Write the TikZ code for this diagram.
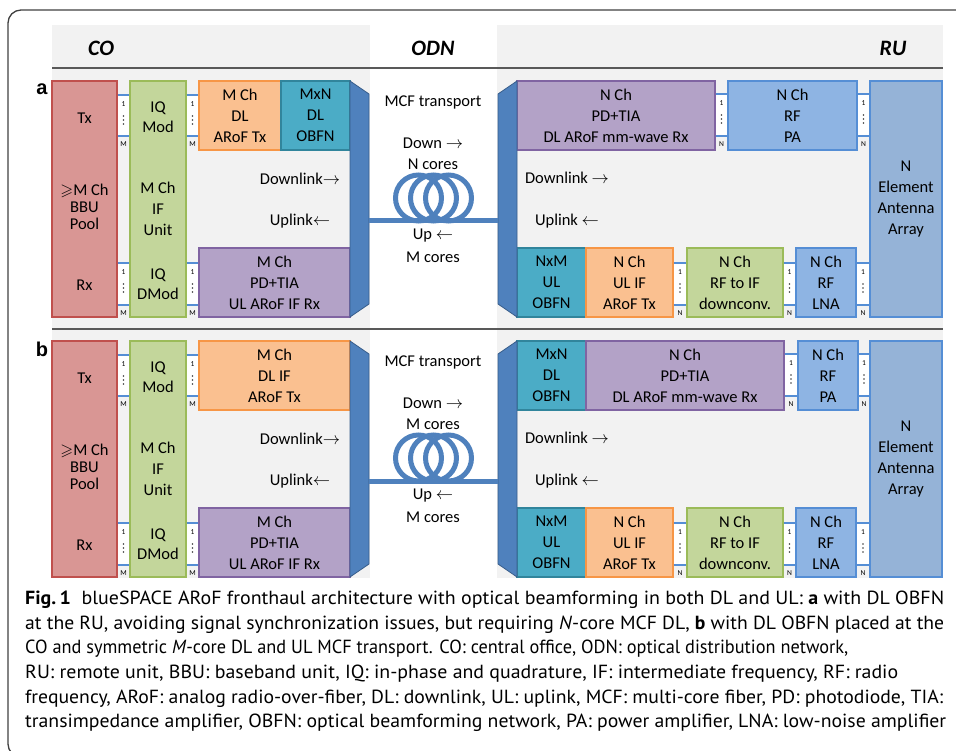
\documentclass[tikz,border=0pt]{standalone}
\usepackage{fontspec}
\usepackage{amssymb}
\usepackage{graphicx}
\setmainfont{Carlito}
\newfontfamily\capfont{PT Sans}
\newfontfamily\lblfont{Liberation Sans}
\usetikzlibrary{calc}
\definecolor{bgG}{HTML}{F2F2F2}
\definecolor{sepC}{HTML}{595959}
\definecolor{frameC}{HTML}{404040}
\definecolor{redF}{HTML}{D99694}
\definecolor{redD}{HTML}{C0504D}
\definecolor{grnF}{HTML}{C3D69B}
\definecolor{grnD}{HTML}{9BBB59}
\definecolor{orgF}{HTML}{FAC090}
\definecolor{orgD}{HTML}{F79646}
\definecolor{tealF}{HTML}{4BACC6}
\definecolor{tealD}{HTML}{31859C}
\definecolor{purF}{HTML}{B3A2C7}
\definecolor{purD}{HTML}{8064A2}
\definecolor{rfF}{HTML}{8EB4E3}
\definecolor{rfD}{HTML}{558ED5}
\definecolor{antF}{HTML}{95B3D7}
\definecolor{antD}{HTML}{558ED5}
\definecolor{muxF}{HTML}{4F81BD}
\definecolor{muxD}{HTML}{385D8A}
\definecolor{chC}{HTML}{558ED5}
\definecolor{dotC}{HTML}{404040}
\newcommand\boxfont{\fontsize{16.5}{21}\selectfont}
\tikzset{
  blk/.style={draw, line width=1.3pt, inner sep=0pt, align=center, font=\boxfont},
  redbox/.style={blk, fill=redF, draw=redD},
  grnbox/.style={blk, fill=grnF, draw=grnD},
  orgbox/.style={blk, fill=orgF, draw=orgD},
  tealbox/.style={blk, fill=tealF, draw=tealD},
  purbox/.style={blk, fill=purF, draw=purD},
  rfbox/.style={blk, fill=rfF, draw=rfD},
  antbox/.style={blk, fill=antF, draw=antD},
  txt/.style={inner sep=0pt, align=center, font=\boxfont},
  tighttxt/.style={inner sep=0pt, align=center, font=\fontsize{16.5}{17}\selectfont},
  hdr/.style={inner sep=0pt, font=\fontsize{22}{26}\selectfont\bfseries\itshape},
  plab/.style={inner sep=0pt, font=\lblfont\fontsize{20}{24}\selectfont\bfseries},
  chline/.style={draw=chC, line width=1.2pt},
  chlab/.style={inner sep=0pt, font=\fontsize{7.5}{8}\selectfont},
  chdot/.style={fill=dotC},
  mux/.style={fill=muxF, draw=muxD, line width=0.8pt},
  fiber/.style={draw=muxF, line width=5pt},
  sepline/.style={draw=sepC, line width=1.4pt},
  capline/.style={anchor=base west, inner sep=0pt, font=\capfont\fontsize{19}{24}\selectfont},
}
\newcommand\blockat[7]{\node[#2, minimum width={#5-#3}, minimum height={#6-#4}] (#1) at ({(#3+#5)/2},{(#4+#6)/2}) {#7};}
\newcommand\chan[5]{%
  \coordinate (cT) at (0,#3); \coordinate (cB) at (0,#4);
  \coordinate (c1) at (0,{#3+9}); \coordinate (cL) at (0,{#4+8});
  \coordinate (d1) at (0,{#3+21}); \coordinate (d2) at (0,{#3+25}); \coordinate (d3) at (0,{#3+29});
  \fill[white] (#1.east |- cT) rectangle (#2.west |- cB);
  \draw[chline] (#1.east |- cT) -- (#2.west |- cT);
  \draw[chline] (#1.east |- cB) -- (#2.west |- cB);
  \coordinate (cM) at ($(#1.east)!0.5!(#2.west)$);
  \node[chlab] at (cM |- c1) {1};
  \fill[chdot] (cM |- d1) circle[radius=0.85];
  \fill[chdot] (cM |- d2) circle[radius=0.85];
  \fill[chdot] (cM |- d3) circle[radius=0.85];
  \node[chlab] at (cM |- cL) {#5};
}
\newcommand\muxpair[1]{%
  \filldraw[mux] (350,{81+#1}) -- (369,{94+#1}) -- (369,{304+#1}) -- (350,{317+#1}) -- cycle;
  \filldraw[mux] (517,{81+#1}) -- (498,{94+#1}) -- (498,{304+#1}) -- (517,{317+#1}) -- cycle;
}
\begin{document}
\begin{tikzpicture}[x=1pt,y=-1pt]
\useasboundingbox (0,0) rectangle (956,751);
\clip (0,0) rectangle (956,751);
% backgrounds
\fill[bgG] (52,25) rectangle (370,578);
\fill[bgG] (497,25) rectangle (943,578);
\draw[sepline] (52,68) -- (943,68);
\draw[sepline] (52,329) -- (943,329);
% frame
\draw[draw=frameC, line width=1.3pt, rounded corners=13pt] (975,10) -- (8,10) -- (8,757) -- (975,757);
% headers
\node[hdr] (hCO) at (101,48) {CO};
\node[hdr] (hODN) at (433,48) {ODN};
\node[hdr] (hRU) at (893,48) {RU};
\node[plab] (la) at (42,89) {a};
\node[plab] (lb) at (42,349) {b};

% ===== panel a =====
\blockat{bbuA}{redbox}{52}{81}{117}{317}{}
\blockat{ifA}{grnbox}{130}{81}{186}{317}{}
\node[txt] (bbuAtx) at (84.5,118) {Tx};
\node[tighttxt] (bbuAmid) at (84.5,207) {$\geqslant$M Ch\\BBU\\Pool};
\node[txt] (bbuArx) at (84.5,285) {Rx};
\node[tighttxt, font=\fontsize{16.5}{20}\selectfont] (ifAmod) at (158,117) {IQ\\Mod};
\node[txt] (ifAmid) at (158,209) {M Ch\\IF\\Unit};
\node[tighttxt, font=\fontsize{16.5}{20}\selectfont] (ifAdmod) at (158,284) {IQ\\DMod};
\blockat{dltxA}{orgbox}{199}{81}{281}{150}{M Ch\\DL\\ARoF Tx}
\blockat{obfnA}{tealbox}{281}{81}{350}{150}{MxN\\DL\\OBFN}
\blockat{ulrxA}{purbox}{199}{248}{350}{317}{M Ch\\PD+TIA\\UL ARoF IF Rx}
\blockat{rurxA}{purbox}{517}{81}{715}{150}{N Ch\\PD+TIA\\DL ARoF mm-wave Rx}
\blockat{paA}{rfbox}{728}{81}{857}{150}{N Ch\\RF\\PA}
\blockat{antA}{antbox}{870}{81}{942}{317}{N\\Element\\Antenna\\Array}
\blockat{ulobfnA}{tealbox}{517}{248}{586}{317}{NxM\\UL\\OBFN}
\blockat{ultxA}{orgbox}{586}{248}{673}{317}{N Ch\\UL IF\\ARoF Tx}
\blockat{dcA}{grnbox}{687}{248}{783}{317}{N Ch\\RF to IF\\downconv.}
\blockat{lnaA}{rfbox}{796}{248}{856}{317}{N Ch\\RF\\LNA}
\chan{bbuA}{ifA}{95}{136}{M}
\chan{bbuA}{ifA}{263}{305}{M}
\chan{ifA}{dltxA}{95}{136}{M}
\chan{ifA}{ulrxA}{263}{305}{M}
\chan{rurxA}{paA}{94}{136}{N}
\chan{paA}{antA}{94}{136}{N}
\chan{ultxA}{dcA}{263}{305}{N}
\chan{dcA}{lnaA}{263}{305}{N}
\chan{lnaA}{antA}{263}{305}{N}
\node[txt] (dlCOa) at (300,179) {Downlink$\rightarrow$};
\node[txt] (ulCOa) at (300,221) {Uplink$\leftarrow$};
\node[txt] (dlRUa) at (567,178) {Downlink $\rightarrow$};
\node[txt] (ulRUa) at (567,221) {Uplink $\leftarrow$};
\muxpair{0}
\coordinate (fLa) at (369,221);
\coordinate (fRa) at (498,221);
\draw[fiber] (418.5,198) circle[radius=23];
\draw[fiber] (433.5,198) circle[radius=23];
\draw[fiber] (448.5,198) circle[radius=23];
\draw[fiber] (fLa) -- (fRa);
\node[txt] (mcfa) at (433,102) {MCF transport};
\node[txt] (downa) at (433,143) {Down $\rightarrow$};
\node[txt] (ncorea) at (433,164) {N cores};
\node[txt] (upa) at (433,236) {Up $\leftarrow$};
\node[txt] (mcorea) at (433,257) {M cores};

% ===== panel b =====
\blockat{bbuB}{redbox}{52}{341}{117}{577}{}
\blockat{ifB}{grnbox}{130}{341}{186}{577}{}
\node[txt] (bbuBtx) at (84.5,378) {Tx};
\node[tighttxt] (bbuBmid) at (84.5,467) {$\geqslant$M Ch\\BBU\\Pool};
\node[txt] (bbuBrx) at (84.5,545) {Rx};
\node[tighttxt, font=\fontsize{16.5}{20}\selectfont] (ifBmod) at (158,377) {IQ\\Mod};
\node[txt] (ifBmid) at (158,469) {M Ch\\IF\\Unit};
\node[tighttxt, font=\fontsize{16.5}{20}\selectfont] (ifBdmod) at (158,544) {IQ\\DMod};
\blockat{dltxB}{orgbox}{199}{341}{350}{410}{M Ch\\DL IF\\ARoF Tx}
\blockat{ulrxB}{purbox}{199}{508}{350}{577}{M Ch\\PD+TIA\\UL ARoF IF Rx}
\blockat{obfnB}{tealbox}{517}{341}{586}{410}{MxN\\DL\\OBFN}
\blockat{rurxB}{purbox}{586}{341}{784}{410}{N Ch\\PD+TIA\\DL ARoF mm-wave Rx}
\blockat{paB}{rfbox}{798}{341}{858}{410}{N Ch\\RF\\PA}
\blockat{antB}{antbox}{870}{341}{942}{577}{N\\Element\\Antenna\\Array}
\blockat{ulobfnB}{tealbox}{517}{508}{586}{577}{NxM\\UL\\OBFN}
\blockat{ultxB}{orgbox}{586}{508}{673}{577}{N Ch\\UL IF\\ARoF Tx}
\blockat{dcB}{grnbox}{687}{508}{783}{577}{N Ch\\RF to IF\\downconv.}
\blockat{lnaB}{rfbox}{796}{508}{856}{577}{N Ch\\RF\\LNA}
\chan{bbuB}{ifB}{355}{396}{M}
\chan{bbuB}{ifB}{523}{565}{M}
\chan{ifB}{dltxB}{355}{396}{M}
\chan{ifB}{ulrxB}{523}{565}{M}
\chan{rurxB}{paB}{354}{396}{N}
\chan{paB}{antB}{354}{396}{N}
\chan{ultxB}{dcB}{523}{565}{N}
\chan{dcB}{lnaB}{523}{565}{N}
\chan{lnaB}{antB}{523}{565}{N}
\node[txt] (dlCOb) at (300,439) {Downlink$\rightarrow$};
\node[txt] (ulCOb) at (300,481) {Uplink$\leftarrow$};
\node[txt] (dlRUb) at (567,438) {Downlink $\rightarrow$};
\node[txt] (ulRUb) at (567,481) {Uplink $\leftarrow$};
\muxpair{260}
\coordinate (fLb) at (369,481);
\coordinate (fRb) at (498,481);
\draw[fiber] (418.5,458) circle[radius=23];
\draw[fiber] (433.5,458) circle[radius=23];
\draw[fiber] (448.5,458) circle[radius=23];
\draw[fiber] (fLb) -- (fRb);
\node[txt] (mcfb) at (433,362) {MCF transport};
\node[txt] (downb) at (433,403) {Down $\rightarrow$};
\node[txt] (ncoreb) at (433,424) {M cores};
\node[txt] (upb) at (433,496) {Up $\leftarrow$};
\node[txt] (mcoreb) at (433,517) {M cores};

% ===== caption =====
\node[capline] (cap1) at (25,604) {\resizebox{919pt}{\height}{\textbf{Fig.\,1}\ \ blueSPACE ARoF fronthaul architecture with optical beamforming in both DL and UL: \textbf{a} with DL OBFN}};
\node[capline] (cap2) at (25,629) {\resizebox{919pt}{\height}{at the RU, avoiding signal synchronization issues, but requiring \textit{N}-core MCF DL, \textbf{b} with DL OBFN placed at the}};
\node[capline] (cap3) at (25,653) {\resizebox{823pt}{\height}{CO and symmetric \textit{M}-core DL and UL MCF transport. CO: central office, ODN: optical distribution network,}};
\node[capline] (cap4) at (25,678) {\resizebox{873pt}{\height}{RU: remote unit, BBU: baseband unit, IQ: in-phase and quadrature, IF: intermediate frequency, RF: radio}};
\node[capline] (cap5) at (25,703) {\resizebox{918pt}{\height}{frequency, ARoF: analog radio-over-fiber, DL: downlink, UL: uplink, MCF: multi-core fiber, PD: photodiode, TIA:}};
\node[capline] (cap6) at (25,727) {\resizebox{921pt}{\height}{transimpedance amplifier, OBFN: optical beamforming network, PA: power amplifier, LNA: low-noise amplifier}};
\end{tikzpicture}
\end{document}
